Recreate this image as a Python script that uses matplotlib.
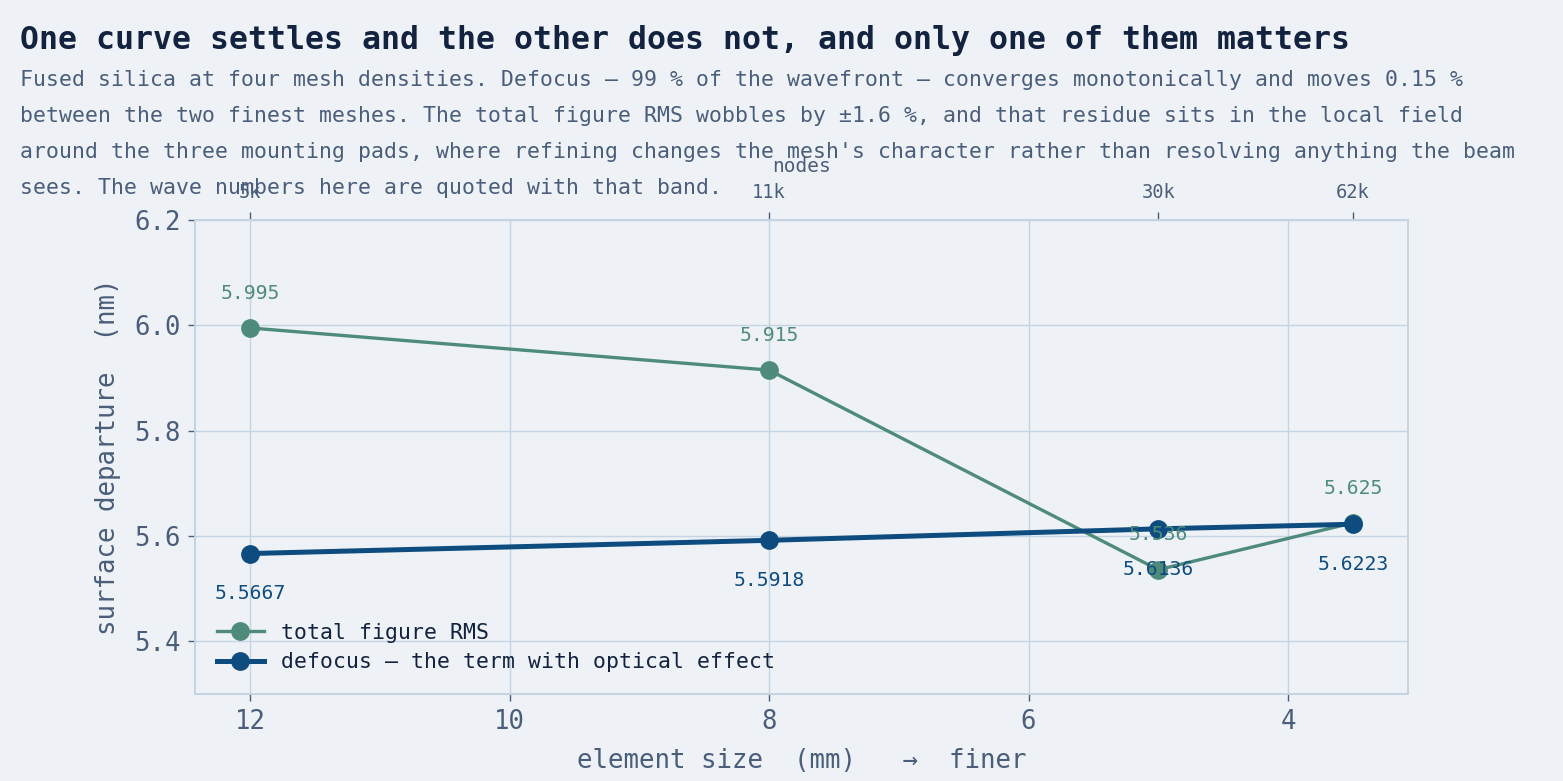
import matplotlib
matplotlib.use("Agg")
import matplotlib.pyplot as plt

# mesh study data
element_size = [12, 8, 5, 3.5]
node_labels = ["5k", "11k", "30k", "62k"]
total_rms = [5.995, 5.915, 5.536, 5.625]
defocus = [5.5667, 5.5918, 5.6136, 5.6223]

BG = "#EEF2F7"
INK = "#13233F"
SLATE = "#4A5E7A"
GRID = "#C5D3E3"
GREEN = "#4E8B7A"
BLUE = "#0E4C80"

plt.rcParams.update({
    "font.family": ["DejaVu Sans Mono"],
    "figure.facecolor": BG,
    "axes.facecolor": BG,
    "axes.edgecolor": GRID,
    "axes.labelcolor": SLATE,
    "xtick.color": SLATE,
    "ytick.color": SLATE,
})

fig, ax = plt.subplots(figsize=(15.63, 7.81), dpi=100)
fig.subplots_adjust(left=0.1248, right=0.9008, top=0.7183, bottom=0.1114)

ax.plot(element_size, total_rms, color=GREEN, lw=2.4, marker="o", ms=12.5,
        label="total figure RMS", zorder=3)
ax.plot(element_size, defocus, color=BLUE, lw=3.6, marker="o", ms=12.5,
        label="defocus — the term with optical effect", zorder=4)

for x, y in zip(element_size, total_rms):
    ax.annotate(f"{y:.3f}", (x, y), xytext=(0, 25), textcoords="offset points",
                ha="center", va="center", color=GREEN, fontsize=14.2, zorder=5)
for x, y in zip(element_size, defocus):
    ax.annotate(f"{y:.4f}", (x, y), xytext=(0, -29), textcoords="offset points",
                ha="center", va="center", color=BLUE, fontsize=14.2, zorder=5)

ax.set_xlim(12.425, 3.075)
ax.set_ylim(5.3, 6.2)
ax.set_yticks([5.4, 5.6, 5.8, 6.0, 6.2])
ax.set_xticks([12, 10, 8, 6, 4])
ax.grid(True, color=GRID, lw=1)
ax.set_axisbelow(True)
ax.tick_params(labelsize=18.5, length=5, width=1)
ax.tick_params(axis="y", pad=5)
ax.tick_params(axis="x", pad=6)
for s in ax.spines.values():
    s.set_color(GRID)
    s.set_linewidth(1.4)

ax.set_xlabel("element size  (mm)   →  finer", fontsize=18.5, labelpad=9)
ax.set_ylabel("surface departure  (nm)", fontsize=18.5, labelpad=10)

top = ax.secondary_xaxis("top")
top.set_xticks(element_size, labels=node_labels)
top.tick_params(labelsize=13.5, length=6, width=1, pad=7, color=SLATE, labelcolor=SLATE)
top.spines["top"].set_color(GRID)
top.set_xlabel("nodes", fontsize=14, color=SLATE, labelpad=8)

leg = ax.legend(loc="lower left", frameon=False, fontsize=15.5,
                handlelength=2.2, borderaxespad=0.6, labelspacing=0.45)
for t in leg.get_texts():
    t.set_color(INK)

fig.text(0.0128, 1 - 40 / 781, "One curve settles and the other does not, and only one of them matters",
         fontsize=22.7, fontweight="bold", color=INK, va="center", ha="left")
subtitle = ("Fused silica at four mesh densities. Defocus — 99 % of the wavefront — converges monotonically and moves 0.15 %\n"
            "between the two finest meshes. The total figure RMS wobbles by ±1.6 %, and that residue sits in the local field\n"
            "around the three mounting pads, where refining changes the mesh's character rather than resolving anything the beam\n"
            "sees. The wave numbers here are quoted with that band.")
fig.text(0.0128, 1 - 70 / 781, subtitle, fontsize=15.5, color=SLATE, va="top", ha="left",
         linespacing=2.0)

fig.savefig("out.png", dpi=100, facecolor=BG)
